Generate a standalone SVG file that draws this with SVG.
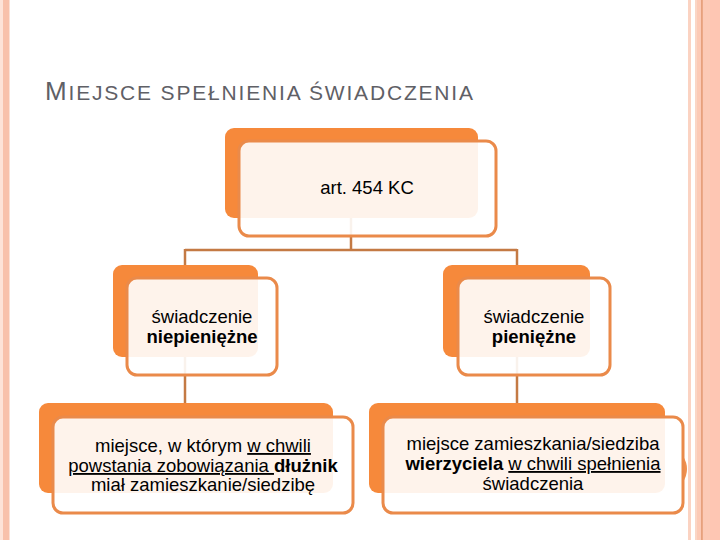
<svg xmlns="http://www.w3.org/2000/svg" width="720" height="540" viewBox="0 0 720 540">
<style>
.back{fill:#f6893b}
.front{fill:#ffffff;fill-opacity:0.9;stroke:#ea8a4a;stroke-width:3}
.conn{stroke:#c47a44;stroke-width:2.5;fill:none}
.t{font-family:"Liberation Sans",Arial,sans-serif;font-size:18.5px;fill:#000;text-anchor:middle}
.b{font-weight:bold}
.u{text-decoration:underline}
</style>
<rect x="0" y="0" width="720" height="540" fill="#ffffff"/>
<g id="border">
<rect x="0" y="0" width="3" height="540" fill="#fde3d8"/>
<rect x="3" y="0" width="6.5" height="540" fill="#f8c1ab"/>
<rect x="688" y="0" width="3" height="540" fill="#fbd3c2"/>
<rect x="695" y="0" width="25" height="540" fill="#fccab6"/>
<rect x="695" y="0" width="2" height="540" fill="#fad6c6"/>
<rect x="701" y="0" width="1.8" height="540" fill="#e6a17d"/>
<rect x="710" y="0" width="10" height="540" fill="#fec6b3"/>
</g>
<text x="45" y="100" font-family="'Liberation Sans',Arial,sans-serif" fill="#5f6066" textLength="428" lengthAdjust="spacing"><tspan font-size="26">M</tspan><tspan font-size="21">IEJSCE SPEŁNIENIA ŚWIADCZENIA</tspan></text>
<g id="connectors">
<line class="conn" x1="351" y1="218" x2="351" y2="250"/>
<line class="conn" x1="185" y1="250" x2="517" y2="250"/>
<line class="conn" x1="185" y1="249" x2="185" y2="266"/>
<line class="conn" x1="517" y1="249" x2="517" y2="266"/>
<line class="conn" x1="185" y1="357" x2="185" y2="404"/>
<line class="conn" x1="517" y1="357" x2="517" y2="404"/>
</g>
<g id="node-art454">
<rect class="back" x="225" y="128" width="253" height="90" rx="9"/>
<rect class="front" x="239" y="141" width="257" height="95" rx="10"/>
<text class="t" x="367" y="194">art. 454 KC</text>
</g>
<g id="node-niepieniezne">
<rect class="back" x="113" y="265" width="145" height="92" rx="9"/>
<rect class="front" x="127" y="278" width="150" height="97" rx="10"/>
<text class="t" x="202" y="323">świadczenie</text>
<text class="t b" x="202" y="343">niepieniężne</text>
</g>
<g id="node-pieniezne">
<rect class="back" x="443" y="265" width="147" height="92" rx="9"/>
<rect class="front" x="458" y="278" width="152" height="97" rx="10"/>
<text class="t" x="534" y="323">świadczenie</text>
<text class="t b" x="534" y="343">pieniężne</text>
</g>
<g id="node-dluznik">
<rect class="back" x="39" y="403" width="294" height="90" rx="9"/>
<rect class="front" x="53" y="417" width="300" height="96" rx="10"/>
<text class="t" x="203" y="452">miejsce, w którym <tspan class="u">w chwili</tspan></text>
<text class="t" x="203" y="472"><tspan class="u">powstania zobowiązania </tspan><tspan class="b">dłużnik</tspan></text>
<text class="t" x="203" y="491">miał zamieszkanie/siedzibę</text>
</g>
<g id="node-wierzyciel">
<path d="M683,456 Q691,469 683,482 Z" fill="#ef9050"/>
<rect class="back" x="369" y="403" width="296" height="90" rx="9"/>
<rect class="front" x="383" y="417" width="300" height="96" rx="10"/>
<text class="t" x="533" y="450">miejsce zamieszkania/siedziba</text>
<text class="t" x="533" y="470"><tspan class="b">wierzyciela</tspan> <tspan class="u">w chwili spełnienia</tspan></text>
<text class="t" x="533" y="490">świadczenia</text>
</g>
</svg>
